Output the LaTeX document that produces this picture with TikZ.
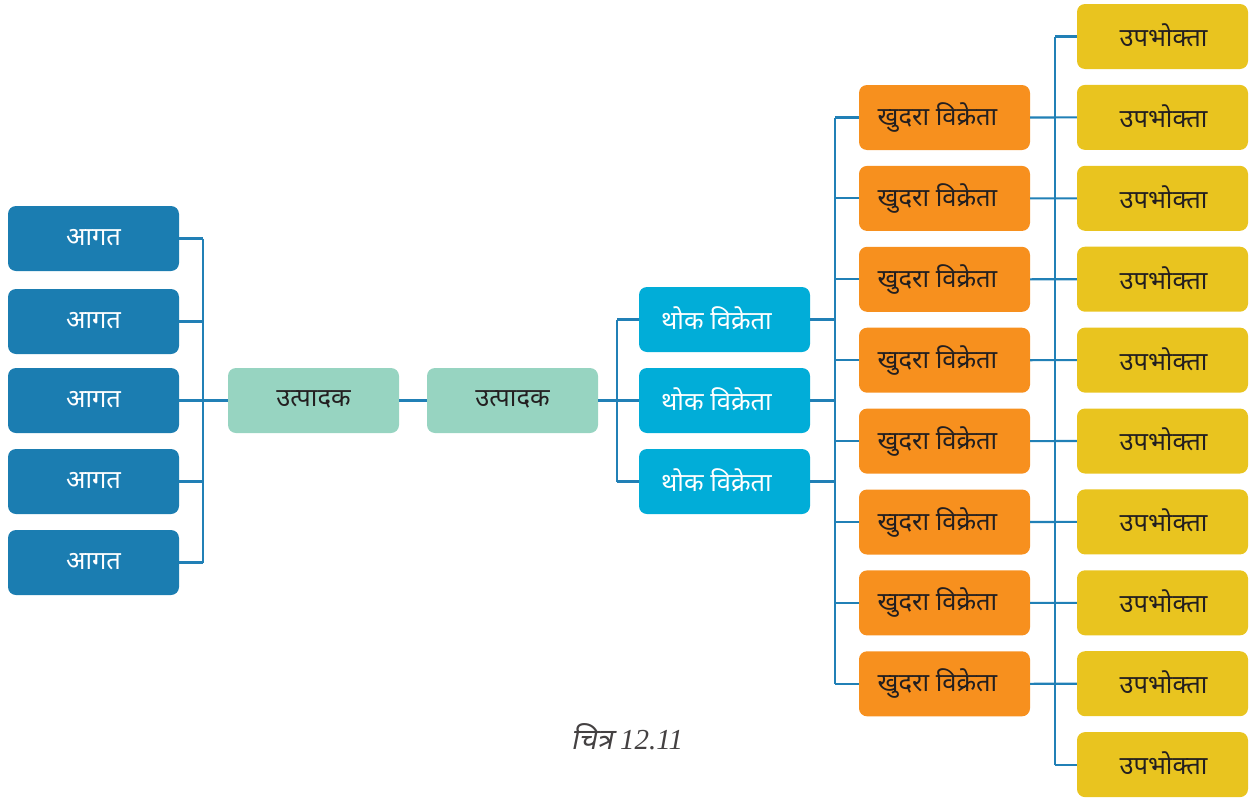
\documentclass[tikz,border=0pt]{standalone}
\usepackage{fontspec}
\setmainfont{Liberation Serif}
\newfontfamily\deva[Script=Devanagari]{Noto Sans}
\newfontfamily\devait[Script=Devanagari,FakeSlant=0.2]{Noto Sans}
\definecolor{cAag}{HTML}{1B7DB1}
\definecolor{cUtp}{HTML}{97D4C1}
\definecolor{cTho}{HTML}{01ADD8}
\definecolor{cKhu}{HTML}{F7901E}
\definecolor{cUpa}{HTML}{E9C41F}
\definecolor{cLine}{HTML}{2180B6}
\definecolor{cTxt}{HTML}{231F20}
\newcommand\lbl[1]{\raisebox{3pt}{#1}}
\begin{document}
\begin{tikzpicture}[x=1pt,y=-1pt,
  box/.style={rounded corners=8pt, minimum width=171pt, minimum height=65pt, inner sep=0pt,
    font=\deva\fontsize{25.5}{28}\selectfont},
  aag/.style={box, fill=cAag, text=white},
  utp/.style={box, fill=cUtp, text=cTxt},
  tho/.style={box, fill=cTho, text=white},
  khu/.style={box, fill=cKhu, text=cTxt},
  upa/.style={box, fill=cUpa, text=cTxt},
  conn/.style={draw=cLine, line width=2.1pt}]
\useasboundingbox (0,0) rectangle (1251,798);
% nodes
\foreach \i/\y in {1/238.5,2/321.5,3/400.5,4/481.5,5/562.5}
  \node[aag] (a\i) at (93.5,\y) {\lbl{आगत}};
\node[utp] (p1) at (313.5,400.5) {\lbl{उत्पादक}};
\node[utp] (p2) at (512.5,400.5) {\lbl{उत्पादक}};
\foreach \i/\y in {1/319.5,2/400.5,3/481.5}
  \node[tho] (w\i) at (724.5,\y) {\hspace*{-16pt}\lbl{थोक विक्रेता}};
\foreach \i in {1,...,8}
  \node[khu] (r\i) at (944.5,{117.5+80.9*(\i-1)}) {\hspace*{-14pt}\lbl{खुदरा विक्रेता}};
\foreach \i in {1,...,10}
  \node[upa] (c\i) at (1162.5,{36.5+80.9*(\i-1)}) {\hspace*{2pt}\lbl{उपभोक्ता}};
% junctions
\coordinate (j1) at (203,400.5);
\coordinate (j2) at (617,400.5);
\coordinate (j3) at (835,400.5);
\coordinate (j4) at (1055,400.5);
% connectors
\foreach \i in {1,...,5} \draw[conn] (a\i.east) -- (a\i.east -| j1);
\draw[conn] (a1.east -| j1) -- (a5.east -| j1);
\draw[conn] (j1) -- (p1.west);
\draw[conn] (p1.east) -- (p2.west);
\draw[conn] (p2.east) -- (w2.west);
\draw[conn] (w1.west -| j2) -- (w3.west -| j2);
\draw[conn] (w1.west -| j2) -- (w1.west);
\draw[conn] (w3.west -| j2) -- (w3.west);
\foreach \i in {1,...,3} \draw[conn] (w\i.east) -- (w\i.east -| j3);
\draw[conn] (r1.west -| j3) -- (r8.west -| j3);
\foreach \i in {1,...,8} \draw[conn] (r\i.west -| j3) -- (r\i.west);
\draw[conn] (c1.west -| j4) -- (c10.west -| j4);
\foreach \i [evaluate=\i as \k using int(\i+1)] in {1,...,8} \draw[conn] (r\i.east) -- (c\k.west);
\draw[conn] (c1.west -| j4) -- (c1.west);
\draw[conn] (c10.west -| j4) -- (c10.west);
% caption
\node[text=cTxt!85, font=\fontsize{29}{33}\selectfont] (cap) at (627,737) {{\devait चित्र} \textit{12.11}};
\end{tikzpicture}
\end{document}
